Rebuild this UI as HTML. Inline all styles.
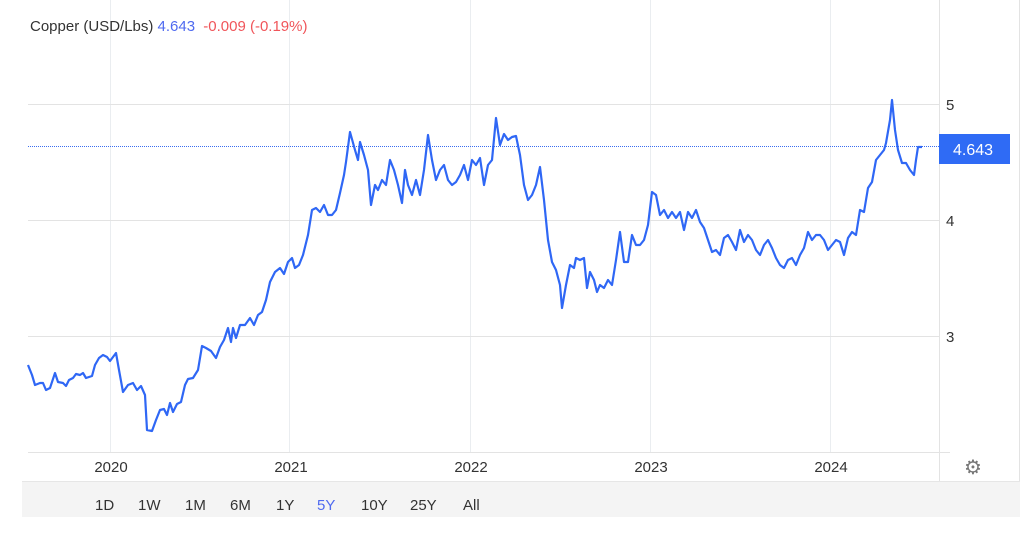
<!DOCTYPE html>
<html><head><meta charset="utf-8"><style>
body{margin:0;background:#fff;width:1036px;height:540px;overflow:hidden;font-family:"Liberation Sans",sans-serif}
</style></head><body>
<svg width="1036" height="540" xmlns="http://www.w3.org/2000/svg" font-family="Liberation Sans, sans-serif">
<rect x="0" y="0" width="1036" height="540" fill="#fff"/>
<g stroke="#eaedf0" stroke-width="1">
<line x1="110.5" y1="0" x2="110.5" y2="452"/>
<line x1="289.5" y1="0" x2="289.5" y2="452"/>
<line x1="470.5" y1="0" x2="470.5" y2="452"/>
<line x1="650.5" y1="0" x2="650.5" y2="452"/>
<line x1="830.5" y1="0" x2="830.5" y2="452"/>
<line x1="28" y1="104.5" x2="939" y2="104.5" stroke="#e3e3e3"/>
<line x1="28" y1="220.5" x2="939" y2="220.5" stroke="#e3e3e3"/>
<line x1="28" y1="336.5" x2="939" y2="336.5" stroke="#e3e3e3"/>
</g>
<line x1="939.5" y1="0" x2="939.5" y2="482" stroke="#e3e3e3"/>
<line x1="1019.5" y1="0" x2="1019.5" y2="517" stroke="#e3e3e3"/>
<line x1="28" y1="452.5" x2="950" y2="452.5" stroke="#e3e3e3"/>
<rect x="22" y="482" width="998" height="35" fill="#f4f4f4"/>
<line x1="22" y1="481.5" x2="1020" y2="481.5" stroke="#e6e6e6"/>
<line x1="28" y1="146.5" x2="939" y2="146.5" stroke="#3a6df0" stroke-width="1" stroke-dasharray="1,1"/>
<polyline fill="none" stroke="#2f67f5" stroke-width="2.2" stroke-linejoin="round" points="28,365 32,375 35,385 40,383 43,383 46,390 50,388 55,373 58,382 63,383 66,386 69,380 73,378 76,374 80,375 83,373 86,378 92,376 95,365 99,358 103,355 107,357 110,361 116,353 119,370 123,392 128,385 133,383 137,390 141,386 145,395 147,430 152,431 156,420 160,410 164,409 167,415 170,403 173,412 177,404 181,402 185,385 188,379 193,378 198,370 202,346 206,348 211,351 216,358 220,347 224,340 228,328 231,342 233,328 236,338 240,325 245,325 250,318 254,325 258,315 262,312 266,300 270,282 275,272 280,268 284,274 288,262 292,258 295,268 299,265 303,255 308,235 312,210 316,208 320,212 324,205 328,215 332,215 336,210 340,193 344,175 346,162 350,132 355,150 358,160 360,142 364,155 368,170 371,205 375,185 378,190 382,180 386,185 390,160 394,170 398,185 402,203 405,170 408,185 412,195 416,180 420,195 424,170 428,135 432,160 436,180 440,170 444,165 448,180 452,185 456,182 460,175 464,165 468,180 472,160 476,165 480,158 484,185 488,165 492,160 496,118 500,145 504,134 508,140 512,137 516,136 520,155 524,185 528,200 532,195 536,185 540,167 544,200 548,240 552,262 556,270 560,285 562,308 566,285 570,265 574,268 576,258 580,260 584,258 587,288 590,272 594,280 597,292 600,285 604,288 608,280 612,285 616,260 620,232 624,262 628,262 632,235 636,245 640,245 644,240 648,225 652,192 656,195 660,215 664,210 668,218 672,212 676,218 680,212 684,230 688,212 692,218 696,210 700,222 704,228 708,240 712,252 716,250 720,255 724,238 728,235 732,242 736,250 740,230 744,242 748,235 752,240 756,250 760,255 764,245 768,240 772,248 776,258 780,265 784,268 788,260 792,258 796,265 800,255 804,248 808,232 812,240 816,235 820,235 824,240 828,250 832,245 836,240 840,242 844,255 848,238 852,232 856,235 860,210 864,212 868,188 872,182 876,160 880,155 884,150 886,143 890,120 892,100 895,130 898,150 902,163 906,163 910,170 914,175 916,160 918,147 922,147"/>
<text x="30" y="31" font-size="15" fill="#333">Copper (USD/Lbs) <tspan fill="#4f6af0">4.643</tspan>  <tspan fill="#f0555a" dx="4">-0.009 (-0.19%)</tspan></text>
<g font-size="15" fill="#333">
<text x="946" y="110">5</text>
<text x="946" y="226">4</text>
<text x="946" y="342">3</text>
</g>
<rect x="939" y="134" width="71" height="30" fill="#2f6bf5"/>
<text x="953" y="155" font-size="16" fill="#fff">4.643</text>
<g font-size="15" fill="#333" text-anchor="middle">
<text x="111" y="472">2020</text>
<text x="291" y="472">2021</text>
<text x="471" y="472">2022</text>
<text x="651" y="472">2023</text>
<text x="831" y="472">2024</text>
</g>
<text x="973" y="474" font-size="20" fill="#777" text-anchor="middle">⚙</text>
<g font-size="15" fill="#333">
<text x="95" y="510">1D</text>
<text x="138" y="510">1W</text>
<text x="185" y="510">1M</text>
<text x="230" y="510">6M</text>
<text x="276" y="510">1Y</text>
<text x="317" y="510" fill="#4f6af0">5Y</text>
<text x="361" y="510">10Y</text>
<text x="410" y="510">25Y</text>
<text x="463" y="510">All</text>
</g>
</svg>
</body></html>
